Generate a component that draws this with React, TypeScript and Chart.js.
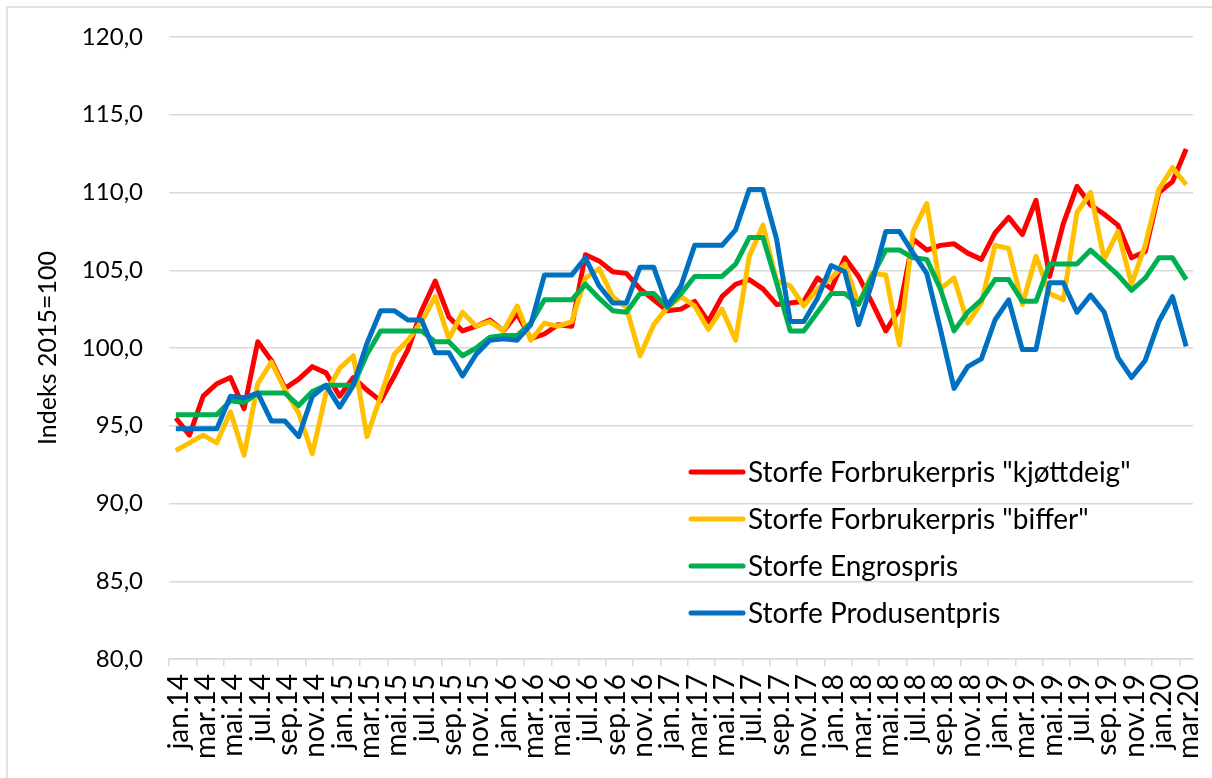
import React, { useEffect, useRef } from 'react';
import { Chart, registerables } from 'chart.js';

Chart.register(...registerables);

const LABELS: string[] = [
  'jan.14', 'feb.14', 'mar.14', 'apr.14', 'mai.14', 'jun.14', 'jul.14', 'aug.14', 'sep.14', 'okt.14', 'nov.14', 'des.14',
  'jan.15', 'feb.15', 'mar.15', 'apr.15', 'mai.15', 'jun.15', 'jul.15', 'aug.15', 'sep.15', 'okt.15', 'nov.15', 'des.15',
  'jan.16', 'feb.16', 'mar.16', 'apr.16', 'mai.16', 'jun.16', 'jul.16', 'aug.16', 'sep.16', 'okt.16', 'nov.16', 'des.16',
  'jan.17', 'feb.17', 'mar.17', 'apr.17', 'mai.17', 'jun.17', 'jul.17', 'aug.17', 'sep.17', 'okt.17', 'nov.17', 'des.17',
  'jan.18', 'feb.18', 'mar.18', 'apr.18', 'mai.18', 'jun.18', 'jul.18', 'aug.18', 'sep.18', 'okt.18', 'nov.18', 'des.18',
  'jan.19', 'feb.19', 'mar.19', 'apr.19', 'mai.19', 'jun.19', 'jul.19', 'aug.19', 'sep.19', 'okt.19', 'nov.19', 'des.19',
  'jan.20', 'feb.20', 'mar.20',
];

const KJOTTDEIG: number[] = [
  95.5, 94.4, 96.9, 97.7, 98.1, 96.1, 100.4, 99.2, 97.4, 98.0, 98.8, 98.4,
  96.9, 98.1, 97.3, 96.6, 98.2, 99.9, 102.4, 104.3, 102.0, 101.1, 101.4, 101.8,
  101.1, 102.2, 100.6, 100.9, 101.5, 101.4, 106.0, 105.6, 104.9, 104.8, 103.8, 103.1,
  102.4, 102.5, 103.0, 101.7, 103.3, 104.1, 104.4, 103.8, 102.8, 102.9, 103.0, 104.5,
  103.8, 105.8, 104.6, 102.9, 101.1, 102.5, 107.0, 106.3, 106.6, 106.7, 106.1, 105.7,
  107.4, 108.4, 107.3, 109.5, 104.6, 108.0, 110.4, 109.2, 108.6, 107.9, 105.8, 106.2,
  110.0, 110.7, 112.8,
];

const BIFFER: number[] = [
  93.4, 93.9, 94.4, 93.9, 95.9, 93.1, 97.7, 99.1, 97.3, 95.8, 93.2, 97.1,
  98.7, 99.5, 94.3, 96.9, 99.6, 100.5, 101.7, 103.3, 100.6, 102.3, 101.4, 101.7,
  101.1, 102.7, 100.5, 101.6, 101.4, 101.7, 104.5, 105.1, 103.3, 102.6, 99.5, 101.5,
  102.6, 103.3, 102.7, 101.2, 102.5, 100.5, 105.9, 107.9, 104.3, 104.0, 102.7, 103.8,
  104.5, 105.4, 102.8, 104.8, 104.7, 100.2, 107.5, 109.3, 103.8, 104.5, 101.6, 102.9,
  106.6, 106.4, 102.8, 105.9, 103.5, 103.1, 108.7, 110.0, 105.7, 107.5, 104.1, 106.6,
  110.2, 111.6, 110.5,
];

const ENGROS: number[] = [
  95.7, 95.7, 95.7, 95.7, 96.6, 96.5, 97.1, 97.1, 97.1, 96.3, 97.2, 97.6,
  97.6, 97.6, 99.6, 101.1, 101.1, 101.1, 101.1, 100.4, 100.4, 99.5, 100.0, 100.7,
  100.8, 100.8, 101.6, 103.1, 103.1, 103.1, 104.1, 103.2, 102.4, 102.3, 103.5, 103.5,
  102.6, 103.5, 104.6, 104.6, 104.6, 105.4, 107.1, 107.1, 104.2, 101.1, 101.1, 102.3,
  103.5, 103.5, 102.8, 104.6, 106.3, 106.3, 105.8, 105.7, 103.8, 101.1, 102.3, 103.1,
  104.4, 104.4, 103.0, 103.0, 105.4, 105.4, 105.4, 106.3, 105.5, 104.7, 103.7, 104.5,
  105.8, 105.8, 104.4,
];

const PRODUSENT: number[] = [
  94.8, 94.8, 94.8, 94.8, 96.9, 96.8, 97.1, 95.3, 95.3, 94.3, 96.9, 97.6,
  96.2, 97.6, 100.3, 102.4, 102.4, 101.8, 101.8, 99.7, 99.7, 98.2, 99.6, 100.5,
  100.6, 100.5, 101.5, 104.7, 104.7, 104.7, 105.8, 104.0, 102.9, 102.9, 105.2, 105.2,
  102.7, 104.0, 106.6, 106.6, 106.6, 107.6, 110.2, 110.2, 107.0, 101.7, 101.7, 103.2,
  105.3, 104.9, 101.5, 104.2, 107.5, 107.5, 106.1, 104.8, 101.2, 97.4, 98.8, 99.3,
  101.8, 103.1, 99.9, 99.9, 104.2, 104.2, 102.3, 103.4, 102.3, 99.4, 98.1, 99.2,
  101.7, 103.3, 100.1,
];

const SERIES_NAMES: string[] = [
  'Storfe Forbrukerpris "kjøttdeig"',
  'Storfe Forbrukerpris "biffer"',
  'Storfe Engrospris',
  'Storfe Produsentpris',
];
const SERIES_COLORS: string[] = ['#FF0000', '#FFC000', '#00B050', '#0070C0'];

const Y_TITLE = 'Indeks 2015=100';
const FONT_FAMILY = 'Lato, "Noto Sans", sans-serif';

const insideLegend = {
  id: 'insideLegend',
  afterDatasetsDraw(chart: any) {
    const ctx = chart.ctx;
    ctx.save();
    const x0 = 691;
    const x1 = 743;
    const y0 = 472;
    const dy = 47;
    ctx.font = `28px ${FONT_FAMILY}`;
    ctx.textBaseline = 'middle';
    ctx.textAlign = 'left';
    SERIES_NAMES.forEach((name, i) => {
      const y = y0 + i * dy;
      ctx.strokeStyle = SERIES_COLORS[i];
      ctx.lineWidth = 5;
      ctx.lineCap = 'round';
      ctx.beginPath();
      ctx.moveTo(x0, y);
      ctx.lineTo(x1, y);
      ctx.stroke();
      ctx.fillStyle = '#000000';
      ctx.fillText(name, 748, y + 1);
    });
    ctx.restore();
  },
};

const frame = {
  id: 'frame',
  beforeDraw(chart: any) {
    const ctx = chart.ctx;
    ctx.save();
    ctx.fillStyle = '#ffffff';
    ctx.fillRect(0, 0, chart.width, chart.height);
    ctx.strokeStyle = '#d9d9d9';
    ctx.lineWidth = 1.5;
    ctx.beginPath();
    ctx.moveTo(7, chart.height + 5);
    ctx.lineTo(7, 7);
    ctx.lineTo(chart.width + 5, 7);
    ctx.stroke();
    ctx.restore();
  },
};

export default function App() {
  const canvasRef = useRef<HTMLCanvasElement | null>(null);

  useEffect(() => {
    document.body.style.margin = '0';
    const canvas = canvasRef.current;
    if (!canvas) return;
    const font = { family: FONT_FAMILY, size: 24 };
    const xFont = { family: FONT_FAMILY, size: 28 };
    const seriesData = [KJOTTDEIG, BIFFER, ENGROS, PRODUSENT];
    const chart = new Chart(canvas, {
      type: 'line',
      data: {
        labels: LABELS,
        datasets: seriesData.map((d, i) => ({
          label: SERIES_NAMES[i],
          data: d,
          borderColor: SERIES_COLORS[i],
          backgroundColor: SERIES_COLORS[i],
          borderWidth: 5,
          pointRadius: 0,
          tension: 0,
          fill: false,
          borderJoinStyle: 'round' as const,
          borderCapStyle: 'butt' as const,
          order: 3 - i,
        })),
      },
      options: {
        animation: false,
        responsive: false,
        devicePixelRatio: 1,
        layout: { padding: { left: 30, top: 37, right: 19, bottom: 5 } },
        plugins: {
          legend: { display: false },
          tooltip: { enabled: false },
        },
        scales: {
          x: {
            type: 'category',
            offset: true,
            grid: {
              offset: true,
              drawOnChartArea: false,
              drawTicks: true,
              tickLength: 7,
              lineWidth: 1.5,
              color: (ctx: any) => (ctx.index % 2 === 0 ? '#d9d9d9' : 'rgba(0,0,0,0)'),
            },
            border: { display: true, color: '#d9d9d9', width: 1.5 },
            ticks: {
              autoSkip: false,
              minRotation: 90,
              maxRotation: 90,
              padding: 8,
              labelOffset: 3,
              color: '#000000',
              font: xFont,
              callback: (_v: any, i: number) => (i % 2 === 0 ? LABELS[i] : ''),
            },
            afterFit: (s: any) => {
              s.height = 114;
              s.paddingLeft = 0;
              s.paddingRight = 0;
            },
          },
          y: {
            min: 80,
            max: 120,
            grid: { color: '#d9d9d9', drawTicks: false, lineWidth: 1.5 },
            border: { display: false },
            ticks: {
              stepSize: 5,
              padding: 26,
              color: '#000000',
              font,
              callback: (v: any) => Number(v).toFixed(1).replace('.', ','),
            },
            title: {
              display: true,
              text: Y_TITLE,
              color: '#000000',
              font: { family: FONT_FAMILY, size: 25 },
              padding: { top: 3, bottom: 0 },
            },
            afterFit: (s: any) => {
              s.width = 139;
              s.paddingTop = 0;
              s.paddingBottom = 0;
            },
          },
        },
      },
      plugins: [frame, insideLegend],
    });
    return () => chart.destroy();
  }, []);

  return (
    <div style={{ width: 1212, height: 778, position: 'relative' }}>
      <canvas ref={canvasRef} width={1212} height={778} style={{ display: 'block' }} />
    </div>
  );
}
